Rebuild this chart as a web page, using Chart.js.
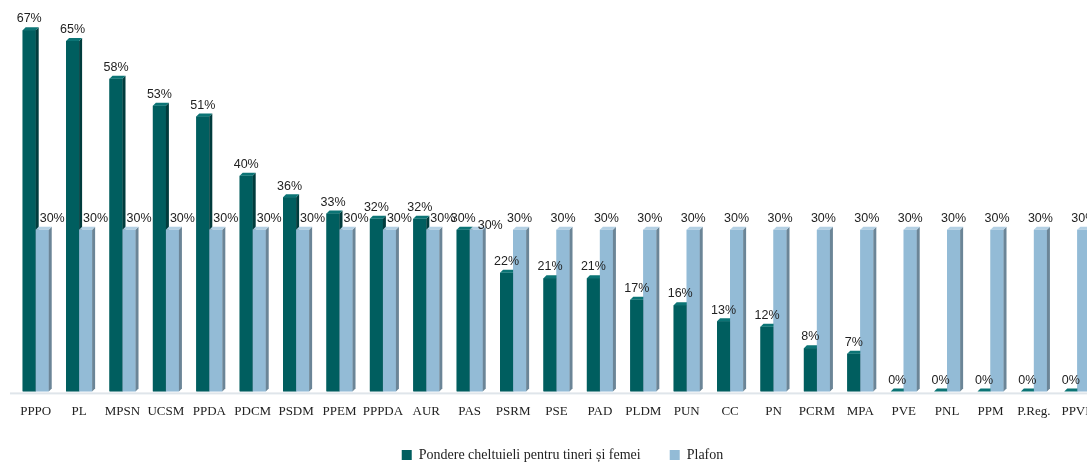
<!DOCTYPE html>
<html>
<head>
<meta charset="utf-8">
<script src="https://cdn.jsdelivr.net/npm/chart.js@4.4.1/dist/chart.umd.min.js"></script>
<style>
  html, body { margin: 0; padding: 0; overflow: hidden; background: #fff; }
  #wrap { width: 1087px; height: 462px; overflow: hidden; }
</style>
</head>
<body>
<div id="wrap"><canvas id="c" width="1135" height="472"></canvas></div>
<script>
// date din grafic
const categories = ['PPPO', 'PL', 'MPSN', 'UCSM', 'PPDA', 'PDCM', 'PSDM', 'PPEM', 'PPPDA', 'AUR', 'PAS', 'PSRM', 'PSE', 'PAD', 'PLDM', 'PUN', 'CC', 'PN', 'PCRM', 'MPA', 'PVE', 'PNL', 'PPM', 'P.Reg.', 'PPVE'];
const pondere = [67, 65, 58, 53, 51, 40, 36, 33, 32, 32, 30, 22, 21, 21, 17, 16, 13, 12, 8, 7, 0, 0, 0, 0, 0];
const plafon = [30, 30, 30, 30, 30, 30, 30, 30, 30, 30, 30, 30, 30, 30, 30, 30, 30, 30, 30, 30, 30, 30, 30, 30, 30];

const colors = {
    dark:  { front: '#005e5f', top: '#0b7475', side: '#003c3d' },
    light: { front: '#93bbd6', top: '#b3d0e4', side: '#6b8597' }
};
const DEPTH = 3;

function drawBox(ctx, el, c) {
    const w = el.width;
    const l = el.x - w / 2, r = el.x + w / 2;
    const t = el.y, b = el.base;
    // fata
    ctx.fillStyle = c.front;
    ctx.fillRect(l, t, w, b - t);
    // partea laterala
    ctx.fillStyle = c.side;
    ctx.beginPath();
    ctx.moveTo(r, t); ctx.lineTo(r + DEPTH, t - DEPTH);
    ctx.lineTo(r + DEPTH, b - DEPTH); ctx.lineTo(r, b);
    ctx.closePath(); ctx.fill();
    // capac
    ctx.fillStyle = c.top;
    ctx.beginPath();
    ctx.moveTo(l, t); ctx.lineTo(l + DEPTH, t - DEPTH);
    ctx.lineTo(r + DEPTH, t - DEPTH); ctx.lineTo(r, t);
    ctx.closePath(); ctx.fill();
}

const bars3d = {
    id: 'bars3d',
    afterLayout(chart) {
        // legenda putin mai la dreapta
        chart.legend.left += 6;
        chart.legend.right += 6;
    },
    beforeDatasetsDraw(chart) {
        const { ctx, chartArea } = chart;
        // podeaua
        ctx.save();
        ctx.fillStyle = '#dfe5ea';
        ctx.fillRect(chartArea.left - 4, chartArea.bottom + 1, chartArea.right - chartArea.left + 8, 2);
        ctx.restore();
    },
    afterDatasetsDraw(chart) {
        const { ctx } = chart;
        const m0 = chart.getDatasetMeta(0).data;
        const m1 = chart.getDatasetMeta(1).data;
        ctx.save();
        for (let i = 0; i < categories.length; i++) {
            drawBox(ctx, m0[i], colors.dark);
            drawBox(ctx, m1[i], colors.light);
        }
        // etichete
        ctx.font = '12.5px "Liberation Sans", Arial, sans-serif';
        ctx.fillStyle = '#222';
        ctx.textAlign = 'center';
        ctx.textBaseline = 'bottom';
        for (let i = 0; i < categories.length; i++) {
            const a = m0[i], b = m1[i];
            ctx.fillText(pondere[i] + '%', a.x, a.y - 5);
            let dx = 0, dy = 0;
            if (Math.abs(pondere[i] - plafon[i]) < 2) { dx = 14; dy = 7; }
            else if (pondere[i] > plafon[i]) { dx = 10; }
            ctx.fillText(plafon[i] + '%', b.x + dx, b.y - 5 + dy);
        }
        ctx.restore();
    }
};

new Chart(document.getElementById('c'), {
    type: 'bar',
    data: {
        labels: categories,
        datasets: [
            { label: 'Pondere cheltuieli pentru tineri și femei', data: pondere, backgroundColor: colors.dark.front, borderWidth: 0 },
            { label: 'Plafon', data: plafon, backgroundColor: colors.light.front, borderWidth: 0 }
        ]
    },
    options: {
        responsive: false,
        animation: false,
        categoryPercentage: 0.6,
        barPercentage: 1.0,
        layout: { padding: { left: 14, right: 36, top: 14, bottom: 0 } },
        scales: {
            x: {
                grid: { display: false, drawTicks: false },
                border: { display: false },
                ticks: { color: '#222', font: { family: '"Liberation Serif", "Times New Roman", serif', size: 13 }, padding: 12, maxRotation: 0, autoSkip: false },
                afterFit(scale) { scale.height += 9; }
            },
            y: { display: false, min: 0, max: 70 }
        },
        plugins: {
            tooltip: { enabled: false },
            legend: {
                position: 'bottom',
                labels: {
                    boxWidth: 10, boxHeight: 10, padding: 8,
                    color: '#222',
                    font: { family: '"Liberation Serif", "Times New Roman", serif', size: 14 },
                    generateLabels(chart) {
                        const items = Chart.defaults.plugins.legend.labels.generateLabels(chart);
                        items[0].text += '      ';
                        return items;
                    }
                }
            }
        }
    },
    plugins: [bars3d]
});
</script>
</body>
</html>
